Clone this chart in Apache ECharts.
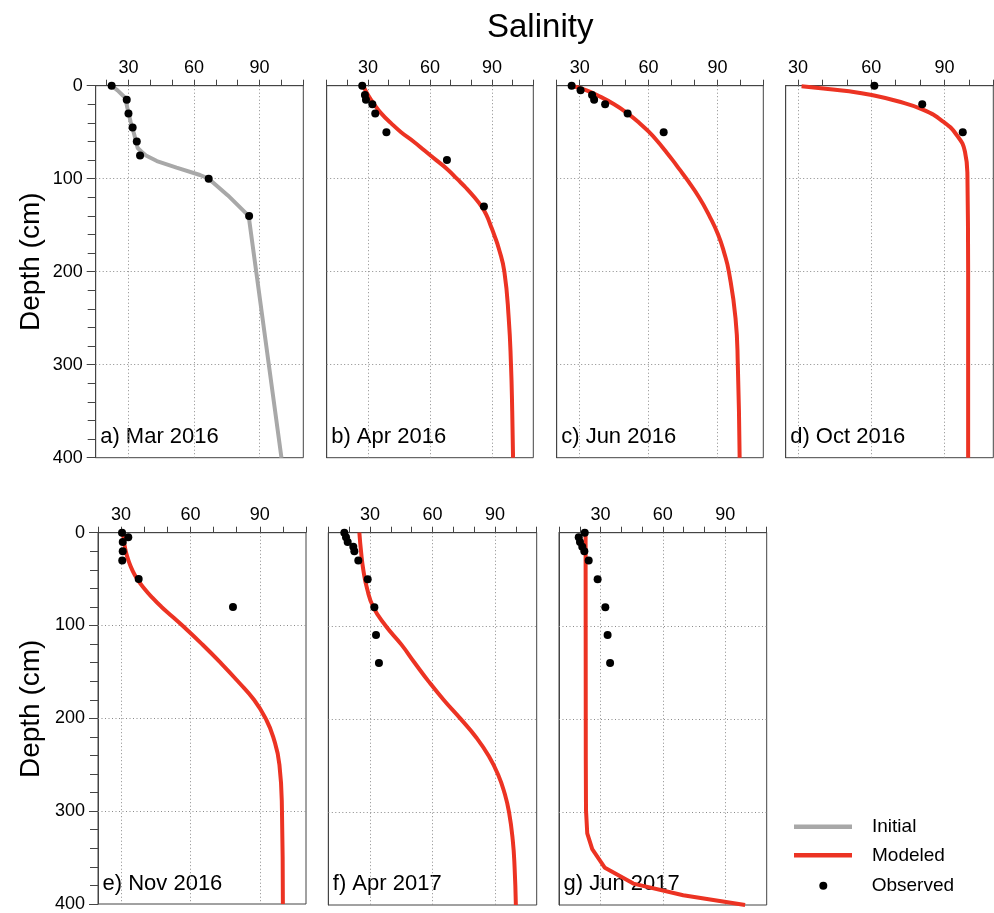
<!DOCTYPE html>
<html>
<head>
<meta charset="UTF-8">
<title>Salinity</title>
<script src="https://cdn.jsdelivr.net/npm/echarts@6.0.0/dist/echarts.min.js"></script>
<style>
  body { margin: 0; background: #fff; }
  #chart { width: 994px; height: 913px; }
</style>
</head>
<body>
<div id="chart"></div>
<script>
// panel names and salinity axis ranges
var panelNames = ['a) Mar 2016', 'b) Apr 2016', 'c) Jun 2016', 'd) Oct 2016', 'e) Nov 2016', 'f) Apr 2017', 'g) Jun 2017'];
var xMins = [15, 10, 20, 25, 20, 10, 10];
var xMax = 110;
var xLabels = [30, 60, 90];
var depthGrid = [100, 200, 300];

// observed profiles: [salinity, depth cm]
var obsA = [[22.3, 0], [29.2, 15], [30, 30], [31.9, 45], [33.8, 60], [35.3, 75], [66.7, 100], [85.2, 140]];
var obsB = [[27.2, 0], [28.5, 10], [29, 15], [32.1, 20], [33.5, 30], [38.9, 50], [68.2, 80], [86.1, 130]];
var obsC = [[26.5, 0], [30.4, 5], [35.4, 10], [36.3, 15], [41.1, 20], [50.9, 30], [66.6, 50]];
var obsD = [[61.3, 0], [80.9, 20], [97.5, 50]];
var obsE = [[30.4, 0], [33.1, 5], [30.7, 10], [30.7, 20], [30.5, 30], [37.6, 50], [78.4, 80]];
var obsF = [[17.7, 0], [18.5, 5], [19.3, 10], [22, 15], [22.5, 20], [24.4, 30], [28.9, 50], [32.1, 80], [32.9, 110], [34.3, 140]];
var obsG = [[22.4, 0], [19.5, 5], [20.1, 10], [21.2, 15], [22.2, 20], [24.3, 30], [28.6, 50], [32.3, 80], [33.4, 110], [34.6, 140]];

// initial profile (panel a)
var initialA = [[22.3, 0], [25, 5], [28.5, 13], [29.5, 24], [31, 39], [32.7, 53], [34.2, 67], [36, 71], [38, 75],
  [43, 81], [52, 88], [62.7, 96], [66.7, 100], [75.5, 118], [85, 140], [100, 400]];

// modeled profiles
var modelB = [[27.7, 0], [30, 10], [33, 20], [36.5, 30], [41, 40], [46, 50], [52, 60], [57.5, 70], [63, 80],
  [68.5, 90], [73, 100], [77.5, 110], [81.5, 120], [85, 130], [87.5, 140], [89.3, 150], [91, 160], [93.3, 175],
  [96, 200], [98.1, 250], [99.2, 300], [99.8, 350], [100.2, 400]];
var modelC = [[26.5, 0], [33, 5], [37.5, 10], [45, 20], [51, 30], [56, 40], [60.3, 50], [64, 60], [67.3, 70],
  [70.5, 80], [73.5, 90], [76.5, 100], [82, 120], [86.5, 140], [90.3, 160], [93, 180], [95, 200], [97.9, 250],
  [98.9, 300], [99.7, 400]];
var modelD = [[31.5, 0.5], [40.4, 3], [50, 5.7], [60.2, 10], [70.5, 16.5], [81.4, 26], [89.5, 38.7], [95, 53],
  [98.4, 71], [99.4, 96], [99.7, 200], [99.7, 400]];
var modelE = [[31, 2], [31.3, 10], [32, 20], [33.2, 30], [34.8, 40], [37, 50], [40, 60], [43.5, 70], [47.5, 80],
  [52, 90], [56.5, 100], [65, 120], [73, 140], [80.5, 160], [87.5, 180], [92.5, 200], [95.8, 220], [98.5, 250],
  [99.6, 300], [100, 400]];
var modelF = [[24.9, 0], [25.7, 20], [26.8, 40], [28.6, 60], [31.6, 80], [37.5, 100], [45, 120], [51.5, 140],
  [58.2, 160], [65.5, 180], [73.5, 200], [81, 220], [87, 240], [91.5, 260], [94.6, 280], [96.7, 300], [98.5, 330],
  [99.4, 360], [100, 400]];
var modelG = [[22.8, 0], [22.9, 244], [23, 298], [23.6, 323], [26, 340], [32.1, 360], [45.8, 377], [69.8, 389.5], [99.6, 400]];

var observed = [obsA, obsB, obsC, obsD, obsE, obsF, obsG];
var profiles = [initialA, modelB, modelC, modelD, modelE, modelF, modelG];

// panel boxes [left, top, width, height]
var boxes = [
  [95.7, 85.7, 207.6, 372], [326.7, 85.7, 206.6, 372], [556.7, 85.7, 206.6, 372], [785.7, 85.7, 207.6, 372],
  [98, 532.7, 208, 372.3], [328.3, 532.7, 208.4, 372.3], [559, 532.7, 207.7, 372.3]
];

var RED = '#ec3323';
var GRAY = '#a8a8a8';
var FONT = 'Liberation Sans';

var grids = [], xAxes = [], yAxes = [], series = [], graphics = [];

boxes.forEach(function (b, i) {
  var showY = (i === 0 || i === 4);
  var ticks = [];
  for (var v = Math.ceil(xMins[i] / 10) * 10; v <= xMax; v += 10) ticks.push(v);

  grids.push({ left: b[0], top: b[1], width: b[2], height: b[3], show: true, borderColor: '#444', borderWidth: 1, backgroundColor: 'transparent' });

  xAxes.push({
    type: 'value', gridIndex: i, position: 'top', min: xMins[i], max: xMax,
    axisLine: { show: true, lineStyle: { color: '#444', width: 1 } },
    axisTick: { show: true, customValues: ticks, length: 6, lineStyle: { color: '#444' } },
    axisLabel: { show: true, customValues: xLabels, fontSize: 18, color: '#000', margin: 9, fontFamily: FONT },
    splitLine: { show: false }
  });

  yAxes.push({
    type: 'value', gridIndex: i, inverse: true, min: 0, max: 400, interval: 100,
    axisLine: { show: true, lineStyle: { color: '#444', width: 1 } },
    axisTick: { show: showY, length: 9, lineStyle: { color: '#444' } },
    minorTick: { show: showY, splitNumber: 5, length: 8, lineStyle: { color: '#444' } },
    axisLabel: { show: showY, fontSize: 18, color: '#000', margin: 13, fontFamily: FONT },
    splitLine: { show: false }
  });

  var gridLines = xLabels.map(function (x) { return { xAxis: x }; })
    .concat(depthGrid.map(function (y) { return { yAxis: y }; }));

  var col = i === 0 ? GRAY : RED;
  series.push({
    name: i === 0 ? 'Initial' : 'Modeled', type: 'line', xAxisIndex: i, yAxisIndex: i,
    data: profiles[i], showSymbol: false, smooth: (i === 0 || i === 6) ? false : 0.5,
    color: col, lineStyle: { color: col, width: 4 }, itemStyle: { color: col },
    z: 2, animation: false,
    markLine: {
      silent: true, symbol: ['none', 'none'], z: 1, animation: false,
      label: { show: false },
      lineStyle: { color: '#8a8a8a', width: 1, type: [1, 2.5] },
      emphasis: { disabled: true },
      data: gridLines
    }
  });
  series.push({
    name: 'Observed', type: 'scatter', xAxisIndex: i, yAxisIndex: i,
    data: observed[i], symbolSize: 8, itemStyle: { color: '#000', opacity: 1 }, z: 3, animation: false
  });

  graphics.push({
    type: 'text', left: b[0] + 4.5, top: b[1] + b[3] - 32,
    style: { text: panelNames[i], fontSize: 22, fontFamily: FONT, fill: '#000' }
  });
  if (showY) {
    graphics.push({
      type: 'text', x: 31, y: b[1] + b[3] / 2 - 10, rotation: Math.PI / 2,
      style: { text: 'Depth (cm)', fontSize: 28, fontFamily: FONT, fill: '#000', align: 'center', verticalAlign: 'middle' }
    });
  }
});

// observed-marker legend entry
graphics.push({ type: 'circle', shape: { cx: 823.3, cy: 885.7, r: 4 }, style: { fill: '#000' } });
graphics.push({
  type: 'text', x: 871.7, y: 885.7,
  style: { text: 'Observed', fontSize: 19, fontFamily: FONT, fill: '#000', verticalAlign: 'middle' }
});

var chart = echarts.init(document.getElementById('chart'), null, { renderer: 'canvas' });
chart.setOption({
  animation: false,
  textStyle: { fontFamily: FONT },
  title: { text: 'Salinity', left: 482, top: 6, textStyle: { fontSize: 33, fontWeight: 'normal', color: '#000', fontFamily: FONT } },
  grid: grids,
  xAxis: xAxes,
  yAxis: yAxes,
  series: series,
  graphic: graphics,
  legend: {
    orient: 'vertical', left: 789, top: 811.7, itemWidth: 58, itemHeight: 4.5, itemGap: 8.6, icon: 'rect',
    selectedMode: false, data: ['Initial', 'Modeled'],
    textStyle: { fontSize: 19, color: '#000', lineHeight: 20, padding: [0, 0, 0, 15], fontFamily: FONT }
  }
});
</script>
</body>
</html>
